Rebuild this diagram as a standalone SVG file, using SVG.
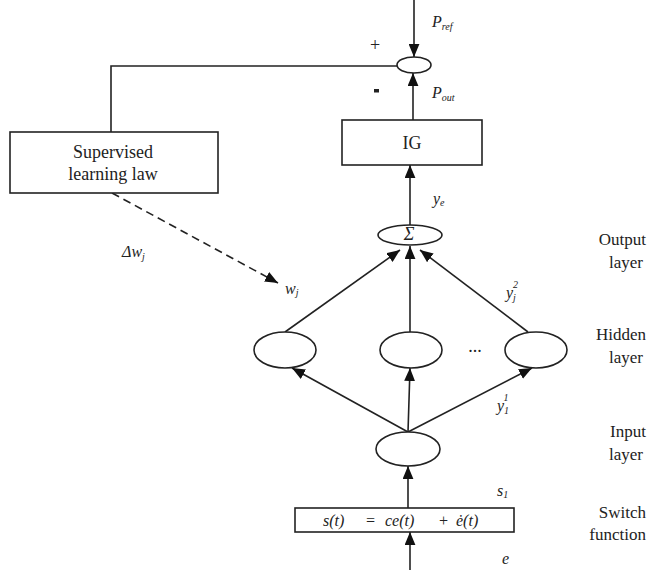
<svg xmlns="http://www.w3.org/2000/svg" width="647" height="570" viewBox="0 0 647 570">
  <style>
    .ln { stroke: #222; stroke-width: 1.6; fill: none; }
    .nd { stroke: #222; stroke-width: 1.6; fill: #fff; }
    .tx { font-family: "Liberation Serif", "Times New Roman", serif; font-size: 18px; fill: #222; }
    .it { font-family: "Liberation Serif", "Times New Roman", serif; font-size: 16px; font-style: italic; fill: #222; }
    .sb { font-size: 10px; }
    .side { font-family: "Liberation Serif", "Times New Roman", serif; font-size: 17px; fill: #222; text-anchor: end; }
  </style>
  <defs>
    <marker id="arrow" viewBox="0 0 12 10" refX="12" refY="5" markerWidth="13" markerHeight="11" markerUnits="userSpaceOnUse" orient="auto">
      <path d="M0,0 L12,5 L0,10 Z" fill="#111"/>
    </marker>
  </defs>

  <!-- connectors -->
  <g id="connectors">
    <line class="ln" x1="414" y1="0" x2="414" y2="57" marker-end="url(#arrow)"/>
    <line class="ln" x1="413" y1="120" x2="413" y2="73" marker-end="url(#arrow)"/>
    <polyline class="ln" points="397,66 111,66 111,132"/>
    <line class="ln" x1="410" y1="225" x2="410" y2="165" marker-end="url(#arrow)"/>
    <line class="ln" x1="285" y1="332" x2="400" y2="250" marker-end="url(#arrow)"/>
    <line class="ln" x1="410" y1="332" x2="410" y2="246" marker-end="url(#arrow)"/>
    <line class="ln" x1="528" y1="332" x2="420" y2="250" marker-end="url(#arrow)"/>
    <line class="ln" x1="408" y1="432" x2="292" y2="368" marker-end="url(#arrow)"/>
    <line class="ln" x1="408" y1="432" x2="410" y2="368" marker-end="url(#arrow)"/>
    <line class="ln" x1="408" y1="432" x2="532" y2="368" marker-end="url(#arrow)"/>
    <line class="ln" x1="408" y1="508" x2="408" y2="466" marker-end="url(#arrow)"/>
    <line class="ln" x1="410" y1="570" x2="410" y2="532" marker-end="url(#arrow)"/>
    <line class="ln" x1="112" y1="193" x2="278" y2="283" stroke-dasharray="8 5" marker-end="url(#arrow)"/>
  </g>

  <!-- summing junction -->
  <g id="junction">
    <ellipse class="nd" cx="414" cy="65" rx="17" ry="8"/>
    <text class="tx" x="370" y="51" font-size="16" fill="#555">+</text>
    <rect x="374" y="89" width="5" height="3.5" fill="#222"/>
  </g>

  <g id="supervised">
    <rect class="nd" x="10" y="132" width="208" height="61"/>
    <text class="tx" x="113" y="158" text-anchor="middle">Supervised</text>
    <text class="tx" x="113" y="180" text-anchor="middle">learning law</text>
  </g>

  <g id="ig">
    <rect class="nd" x="342" y="120" width="140" height="45"/>
    <text class="tx" x="412" y="149" text-anchor="middle">IG</text>
  </g>

  <g id="sum">
    <ellipse class="nd" cx="410" cy="235" rx="32" ry="10"/>
    <text class="tx" x="409" y="240" font-size="17" text-anchor="middle" font-style="italic">Σ</text>
  </g>

  <g id="hidden1"><ellipse class="nd" cx="285" cy="350" rx="31" ry="18"/></g>
  <g id="hidden2"><ellipse class="nd" cx="411" cy="350" rx="31" ry="18"/></g>
  <g id="hidden3"><ellipse class="nd" cx="536" cy="350" rx="31" ry="18"/></g>
  <text class="tx" x="475" y="352" font-size="10" text-anchor="middle" fill="#777">...</text>

  <g id="input">
    <ellipse class="nd" cx="408" cy="449" rx="32" ry="17"/>
  </g>

  <g id="switch">
    <rect class="nd" x="295" y="508" width="219" height="24"/>
    <text class="it" y="526"><tspan x="323">s(t)</tspan><tspan x="365">=</tspan><tspan x="385">ce(t)</tspan><tspan x="438">+</tspan><tspan x="456">ė(t)</tspan></text>
  </g>

  <!-- signal labels -->
  <g id="labels">
    <text class="it" x="432" y="27">P<tspan class="sb" dy="3">ref</tspan></text>
    <text class="it" x="432" y="98">P<tspan class="sb" dy="3">out</tspan></text>
    <text class="it" x="433" y="204">y<tspan class="sb" dy="2">e</tspan></text>
    <text class="it" x="122" y="257">Δw<tspan class="sb" dy="3">j</tspan></text>
    <text class="it" x="285" y="294">w<tspan class="sb" dy="2">j</tspan></text>
    <text class="it" x="506" y="298">y<tspan class="sb" dy="3">j</tspan><tspan class="sb" dx="-3" dy="-13">2</tspan></text>
    <text class="it" x="497" y="411">y<tspan class="sb" dy="3">1</tspan><tspan class="sb" dx="-5" dy="-13">1</tspan></text>
    <text class="it" x="497" y="496">s<tspan class="sb" dy="2">1</tspan></text>
    <text class="it" x="502" y="564">e</text>
  </g>

  <!-- layer captions -->
  <g id="captions">
    <text class="side" x="646" y="245">Output</text>
    <text class="side" x="643" y="268">layer</text>
    <text class="side" x="646" y="340">Hidden</text>
    <text class="side" x="643" y="363">layer</text>
    <text class="side" x="646" y="437">Input</text>
    <text class="side" x="643" y="460">layer</text>
    <text class="side" x="646" y="518">Switch</text>
    <text class="side" x="646" y="540">function</text>
  </g>
</svg>
